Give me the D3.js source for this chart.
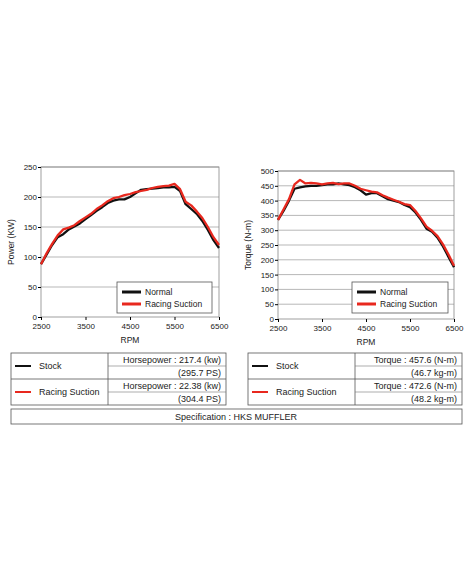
<!DOCTYPE html>
<html><head><meta charset="utf-8">
<script src="https://cdn.jsdelivr.net/npm/d3@7"></script>
<style>body{margin:0;background:#fff;font-family:"Liberation Sans",Arial,sans-serif}</style>
</head><body>
<script>
var rpm = [2500,2625,2750,2875,3000,3125,3250,3375,3500,3625,3750,3875,4000,4125,4250,4375,4500,4625,4750,4875,5000,5125,5250,5375,5500,5625,5750,5875,6000,6125,6250,6375,6500];
var powerNormal = [88,104,120,133,138,146,151,156,163,170,177,183,190,194,196,196,200,206,212,213,214,215,216,216,217,210,188,180,172,160,145,128,115];
var powerRacing = [88,106,122,136,146,149,153,160,166,172,180,186,193,198,200,203,205,208,210,212,215,217,218,219,222,213,192,186,176,165,150,133,120];
var torqueNormal = [335,365,400,440,445,448,450,450,452,455,455,458,455,452,445,435,420,425,425,415,405,400,395,385,378,360,335,305,295,275,245,210,175];
var torqueRacing = [335,370,405,455,470,458,460,458,455,458,460,456,458,458,450,440,435,430,428,418,410,403,396,388,385,365,340,312,298,280,252,218,180];
var powerTicks = [0,50,100,150,200,250];
var torqueTicks = [0,50,100,150,200,250,300,350,400,450,500];
var rpmTicks = [2500,3500,4500,5500,6500];
var seriesNames = ["Normal","Racing Suction"];
var seriesColors = ["#111","#e8281e"];
var leftRows = [["Stock","Horsepower : 217.4 (kw)","(295.7 PS)"],["Racing Suction","Horsepower : 22.38 (kw)","(304.4 PS)"]];
var rightRows = [["Stock","Torque : 457.6 (N-m)","(46.7 kg-m)"],["Racing Suction","Torque : 472.6 (N-m)","(48.2 kg-m)"]];

var svg = d3.select("body").append("svg").attr("width",470).attr("height",588);

function chart(x0,x1,y0,y1,ymax,ticks,label,s1,s2,leg){
  var x = d3.scaleLinear().domain([2500,6500]).range([x0,x1]);
  var y = d3.scaleLinear().domain([0,ymax]).range([y1,y0]);
  var g = svg.append("g");
  g.selectAll(".gl").data(ticks.slice(1)).enter().append("line")
    .attr("x1",x0).attr("x2",x1).attr("y1",y).attr("y2",y).attr("stroke","#999").attr("stroke-width",0.7);
  g.append("rect").attr("x",x0).attr("y",y0).attr("width",x1-x0).attr("height",y1-y0)
    .attr("fill","none").attr("stroke","#888").attr("stroke-width",0.8);
  g.append("g").attr("transform","translate("+x0+",0)")
    .call(d3.axisLeft(y).tickValues(ticks).tickSize(3).tickSizeOuter(0))
    .call(function(a){a.select(".domain").remove();a.selectAll("text").attr("font-size",8).attr("fill","#222").attr("x",-4);});
  g.append("g").attr("transform","translate(0,"+y1+")")
    .call(d3.axisBottom(x).tickValues(rpmTicks).tickFormat(d3.format("d")).tickSize(3).tickSizeOuter(0))
    .call(function(a){a.select(".domain").remove();a.selectAll("text").attr("font-size",8).attr("fill","#222");});
  g.append("text").attr("x",(x0+x1)/2).attr("y",y1+26).attr("text-anchor","middle").attr("font-size",8.5).attr("fill","#222").text("RPM");
  g.append("text").attr("transform","translate("+(x0-27)+","+((y0+y1)/2)+") rotate(-90)")
    .attr("text-anchor","middle").attr("font-size",8.5).attr("fill","#222").text(label);
  var line = d3.line().x(function(d,i){return x(rpm[i]);}).y(function(d){return y(d);});
  [s1,s2].forEach(function(s,i){
    g.append("path").datum(s).attr("d",line).attr("fill","none")
      .attr("stroke",seriesColors[i]).attr("stroke-width",2.3).attr("stroke-linejoin","round");
  });
  var lg = g.append("g").attr("transform","translate("+leg[0]+","+leg[1]+")");
  lg.append("rect").attr("width",leg[2]).attr("height",31).attr("fill","#fff").attr("stroke","#555").attr("stroke-width",0.8);
  seriesNames.forEach(function(n,i){
    lg.append("line").attr("x1",5).attr("x2",24).attr("y1",10+i*12).attr("y2",10+i*12).attr("stroke",seriesColors[i]).attr("stroke-width",3);
    lg.append("text").attr("x",28).attr("y",13+i*12).attr("font-size",8.5).attr("fill","#222").text(n);
  });
}
chart(41,219,167,317,250,powerTicks,"Power (KW)",powerNormal,powerRacing,[117,282,95]);
chart(278,454,171,319,500,torqueTicks,"Torque (N-m)",torqueNormal,torqueRacing,[352,282,96]);

function table(x0,x1,xm,rows){
  var g = svg.append("g"), y0 = 353, rh = 13;
  g.append("rect").attr("x",x0).attr("y",y0).attr("width",x1-x0).attr("height",rh*4).attr("fill","none").attr("stroke","#555").attr("stroke-width",0.8);
  g.append("line").attr("x1",xm).attr("x2",xm).attr("y1",y0).attr("y2",y0+rh*4).attr("stroke","#555").attr("stroke-width",0.8);
  [1,3].forEach(function(k){g.append("line").attr("x1",xm).attr("x2",x1).attr("y1",y0+k*rh).attr("y2",y0+k*rh).attr("stroke","#777").attr("stroke-width",0.6);});
  g.append("line").attr("x1",x0).attr("x2",x1).attr("y1",y0+2*rh).attr("y2",y0+2*rh).attr("stroke","#555").attr("stroke-width",0.8);
  rows.forEach(function(r,i){
    var yc = y0+i*2*rh+rh;
    g.append("line").attr("x1",x0+4).attr("x2",x0+20).attr("y1",yc).attr("y2",yc).attr("stroke",seriesColors[i]).attr("stroke-width",2);
    g.append("text").attr("x",x0+28).attr("y",yc+3).attr("font-size",9).attr("fill","#222").text(r[0]);
    g.append("text").attr("x",x1-5).attr("y",yc-3.5).attr("text-anchor","end").attr("font-size",9).attr("fill","#222").text(r[1]);
    g.append("text").attr("x",x1-5).attr("y",yc+9.5).attr("text-anchor","end").attr("font-size",9).attr("fill","#222").text(r[2]);
  });
}
table(11,226,108,leftRows);
table(248,462,355,rightRows);
svg.append("rect").attr("x",11).attr("y",409).attr("width",451).attr("height",15).attr("fill","none").attr("stroke","#555").attr("stroke-width",0.8);
svg.append("text").attr("x",236).attr("y",420).attr("text-anchor","middle").attr("font-size",9).attr("fill","#222").text("Specification : HKS MUFFLER");
</script>
</body></html>
